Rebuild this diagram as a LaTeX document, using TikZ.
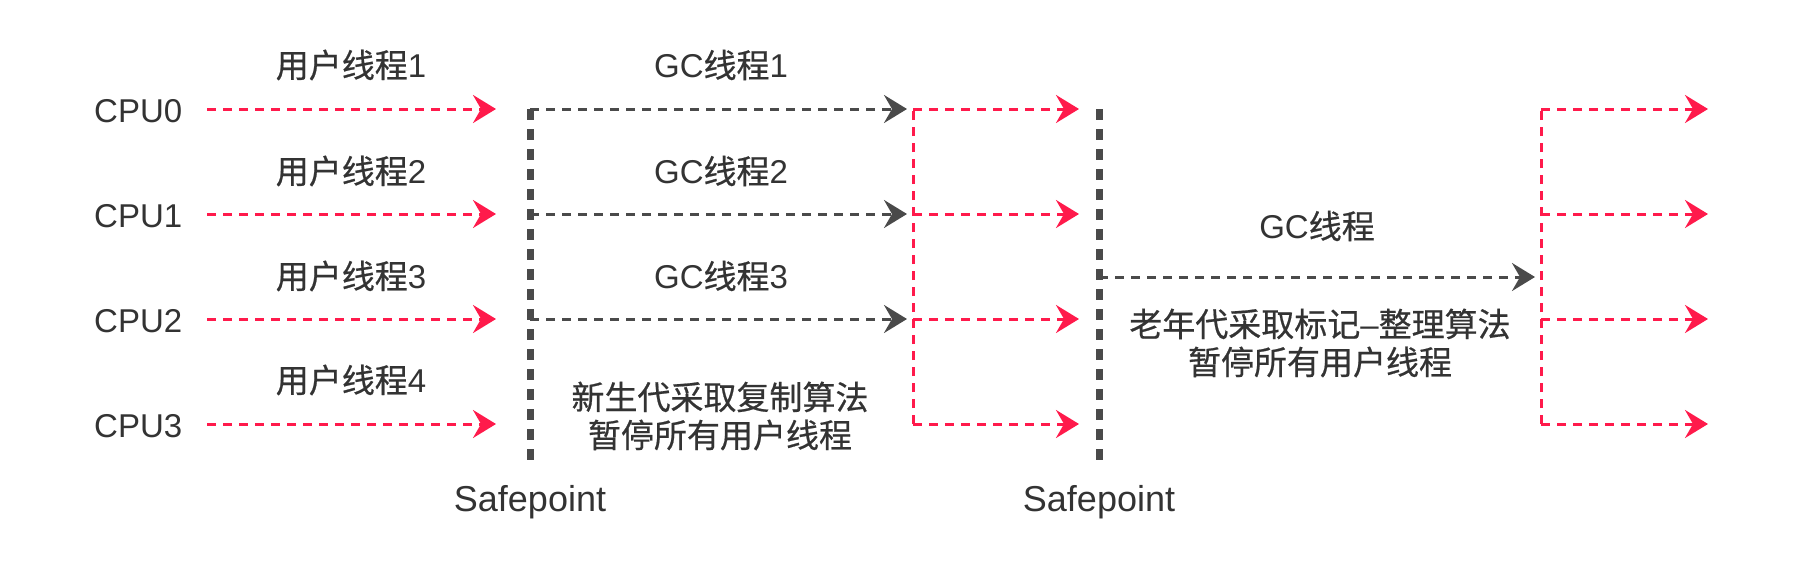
\documentclass[tikz,border=0pt]{standalone}
\usepackage{fontspec}
\setmainfont{Liberation Sans}
\newfontfamily\cjkf[FakeBold=0.6]{Noto Sans CJK SC}
\usetikzlibrary{arrows.meta}
\definecolor{redc}{HTML}{FF1A4B}
\definecolor{grayc}{HTML}{4A4A4A}
\definecolor{txtc}{HTML}{333333}
\begin{document}
\begin{tikzpicture}[x=1pt,y=-1pt,
  lbl/.style={text=txtc,font=\fontsize{33}{40}\selectfont,inner sep=0pt,align=center},
  splbl/.style={text=txtc,font=\fontsize{36}{40}\selectfont,inner sep=0pt},
  tipr/.style={-{Stealth[length=23pt,width=28pt,inset=8pt]}},
  redline/.style={draw=redc,line width=3pt,dash pattern=on 9pt off 7pt},
  grayline/.style={draw=grayc,line width=3pt,dash pattern=on 9pt off 7pt},
  redarr/.style={redline,tipr},
  grayarr/.style={grayline,tipr},
  spline/.style={draw=grayc,line width=7pt,dash pattern=on 11pt off 9pt}
]
\useasboundingbox (0,0) rectangle (1800,568);

% CPU labels and user thread arrows
\foreach \i/\y in {0/109,1/214,2/319,3/424}{
  \node[lbl,anchor=west] (cpu\i) at (94,\y+2) {CPU\i};
  \coordinate (us\i) at (207,\y);
  \coordinate (ue\i) at (496,\y);
  \draw[redarr] (us\i) -- (ue\i);
}
\node[lbl] (ut1) at (351,65) {{\cjkf 用户线程}1};
\node[lbl] (ut2) at (351,171) {{\cjkf 用户线程}2};
\node[lbl] (ut3) at (351,276) {{\cjkf 用户线程}3};
\node[lbl] (ut4) at (351,380) {{\cjkf 用户线程}4};

% first safepoint
\coordinate (sp1t) at (530,109);
\coordinate (sp1b) at (530,463);
\draw[spline] (sp1t) -- (sp1b);
\node[splbl] (sp1) at (530,502) {Safepoint};

% GC threads
\foreach \i/\y in {0/109,1/214,2/319}{
  \coordinate (gs\i) at (530,\y);
  \coordinate (ge\i) at (907,\y);
  \draw[grayarr] (gs\i) -- (ge\i);
}
\node[lbl] (gc1) at (721,65) {GC{\cjkf 线程}1};
\node[lbl] (gc2) at (721,171) {GC{\cjkf 线程}2};
\node[lbl] (gc3) at (721,276) {GC{\cjkf 线程}3};
\node[lbl] (note1) at (720,416) {\cjkf 新生代采取复制算法\\[-2pt]\cjkf 暂停所有用户线程};

% red block 1
\coordinate (r1t) at (913,109);
\coordinate (r1b) at (913,424);
\draw[redline] (r1b) -- (r1t);
\foreach \i/\y in {0/109,1/214,2/319,3/424}{
  \coordinate (ra\i) at (913,\y);
  \coordinate (rb\i) at (1079,\y);
  \draw[redarr] (ra\i) -- (rb\i);
}

% second safepoint
\coordinate (sp2t) at (1099,109);
\coordinate (sp2b) at (1099,463);
\draw[spline] (sp2t) -- (sp2b);
\node[splbl] (sp2) at (1099,502) {Safepoint};

% old gen GC
\coordinate (og1) at (1099,277);
\coordinate (og2) at (1535,277);
\draw[grayarr] (og1) -- (og2);
\node[lbl] (gc) at (1317,226) {GC{\cjkf 线程}};
\node[lbl] (note2) at (1320,343) {{\cjkf 老年代采取标记}–{\cjkf 整理算法}\\[-2pt]\cjkf 暂停所有用户线程};

% red block 2
\coordinate (r2t) at (1541,109);
\coordinate (r2b) at (1541,424);
\draw[redline] (r2b) -- (r2t);
\foreach \i/\y in {0/109,1/214,2/319,3/424}{
  \coordinate (rc\i) at (1541,\y);
  \coordinate (rd\i) at (1708,\y);
  \draw[redarr] (rc\i) -- (rd\i);
}
\end{tikzpicture}
\end{document}
